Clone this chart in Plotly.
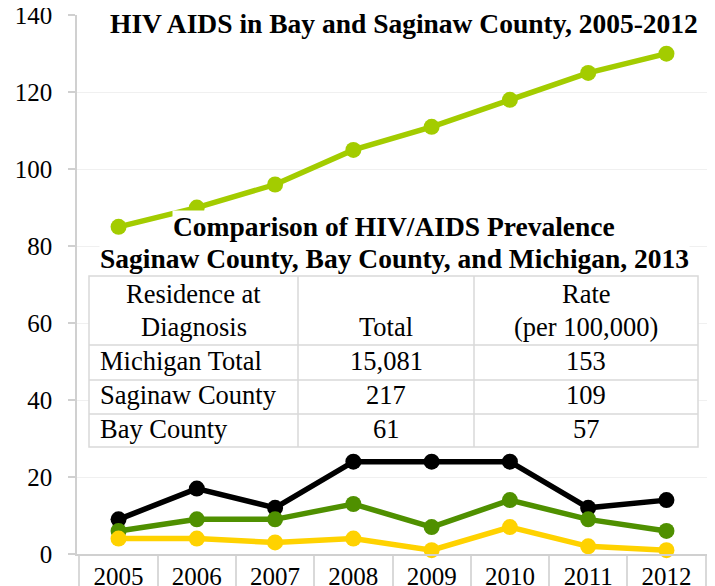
import plotly.graph_objects as go

# ---- data ----
years = ["2005", "2006", "2007", "2008", "2009", "2010", "2011", "2012"]
series_light_green = [85, 90, 96, 105, 111, 118, 125, 130]
series_black = [9, 17, 12, 24, 24, 24, 12, 14]
series_dark_green = [6, 9, 9, 13, 7, 14, 9, 6]
series_yellow = [4, 4, 3, 4, 1, 7, 2, 1]
y_ticks = [0, 20, 40, 60, 80, 100, 120, 140]

chart_title = "HIV AIDS in Bay and Saginaw County, 2005-2012"
table_title_1 = "Comparison of HIV/AIDS Prevalence"
table_title_2 = "Saginaw County, Bay County, and Michigan, 2013"
table_header_lines = [["Residence at", "Diagnosis"], ["", "Total"], ["Rate", "(per 100,000)"]]
table_residence = ["Michigan Total", "Saginaw County", "Bay County"]
table_total = ["15,081", "217", "61"]
table_rate = ["153", "109", "57"]

FONT = "Liberation Serif"
W, H = 715, 586
OFF = 8  # page body margin: figure is drawn 8px right/down in the window
# target (window) positions: plot area x 77..708, y 15..554
ML, MT = 77 - OFF, 15 - OFF
MR = W - (708 - OFF)
MB = H - (554 - OFF)
PW, PH = W - ML - MR, H - MT - MB


def px_x(x):
    """window pixel x -> paper x"""
    return (x - OFF - ML) / PW


def px_y(y):
    """window pixel y -> paper y"""
    return (H - MB - (y - OFF)) / PH


fig = go.Figure()

series = [
    ("Series 1", series_light_green, "#a3cc00"),
    ("Series 2", series_black, "#000000"),
    ("Series 3", series_dark_green, "#4f9000"),
    ("Series 4", series_yellow, "#ffd200"),
]
for name, vals, col in series:
    fig.add_trace(go.Scatter(
        x=years, y=vals, name=name, mode="lines+markers",
        line=dict(color=col, width=5.5),
        marker=dict(color=col, size=16),
        showlegend=False, cliponaxis=False,
    ))

# ---- table (drawn with shapes + annotations) ----
T_LEFT, T_RIGHT = 89, 698
COL_X = [89, 298, 474, 698]
ROW_Y = [276, 345, 380, 414, 447]
GRID = "#d9d9d9"
TFONT = dict(family=FONT, size=26.5, color="black")
DY = -3  # text box centre vs glyph centre

fig.add_shape(type="rect", xref="paper", yref="paper", layer="above",
              x0=px_x(T_LEFT), x1=px_x(T_RIGHT), y0=px_y(ROW_Y[-1]), y1=px_y(ROW_Y[0]),
              fillcolor="white", line=dict(color=GRID, width=1.5))
for yy in ROW_Y[1:-1]:
    fig.add_shape(type="line", xref="paper", yref="paper", layer="above",
                  x0=px_x(T_LEFT), x1=px_x(T_RIGHT), y0=px_y(yy), y1=px_y(yy),
                  line=dict(color=GRID, width=1.5))
for xx in COL_X[1:-1]:
    fig.add_shape(type="line", xref="paper", yref="paper", layer="above",
                  x0=px_x(xx), x1=px_x(xx), y0=px_y(ROW_Y[-1]), y1=px_y(ROW_Y[0]),
                  line=dict(color=GRID, width=1.5))

header_line_y = [297, 330]
for ci, lines in enumerate(table_header_lines):
    cx = (COL_X[ci] + COL_X[ci + 1]) / 2
    for li, txt in enumerate(lines):
        if txt:
            fig.add_annotation(text=txt, xref="paper", yref="paper",
                               x=px_x(cx), y=px_y(header_line_y[li] + DY),
                               xanchor="center", yanchor="middle",
                               showarrow=False, font=TFONT)

for ri in range(len(table_residence)):
    cy = (ROW_Y[ri + 1] + ROW_Y[ri + 2]) / 2 + 1 + DY
    fig.add_annotation(text=table_residence[ri], xref="paper", yref="paper",
                       x=px_x(COL_X[0] + 9), y=px_y(cy), xanchor="left", yanchor="middle",
                       showarrow=False, font=TFONT)
    fig.add_annotation(text=table_total[ri], xref="paper", yref="paper",
                       x=px_x((COL_X[1] + COL_X[2]) / 2), y=px_y(cy),
                       xanchor="center", yanchor="middle", showarrow=False, font=TFONT)
    fig.add_annotation(text=table_rate[ri], xref="paper", yref="paper",
                       x=px_x((COL_X[2] + COL_X[3]) / 2), y=px_y(cy),
                       xanchor="center", yanchor="middle", showarrow=False, font=TFONT)

TITLE_FONT = dict(family=FONT, size=27.5, color="black")
fig.add_annotation(
    text="<b>" + chart_title + "</b>", xref="paper", yref="paper",
    x=px_x(404), y=px_y(27 + DY), xanchor="center", yanchor="middle",
    showarrow=False, font=TITLE_FONT,
)
fig.add_annotation(
    text="<b>" + table_title_1 + "</b>", xref="paper", yref="paper",
    x=px_x(394), y=px_y(230 + DY), xanchor="center", yanchor="middle",
    showarrow=False, font=TITLE_FONT, bgcolor="white", borderpad=0,
)
fig.add_annotation(
    text="<b>" + table_title_2 + "</b>", xref="paper", yref="paper",
    x=px_x(394), y=px_y(261 + DY), xanchor="center", yanchor="middle",
    showarrow=False, font=TITLE_FONT, bgcolor="white", borderpad=0,
)

# chart-area right border
fig.add_shape(type="line", xref="paper", yref="paper",
              x0=1, x1=1, y0=px_y(600), y1=px_y(0),
              line=dict(color="#e6e6e6", width=1.5))

fig.update_layout(
    width=W, height=H,
    margin=dict(l=ML, r=MR, t=MT, b=MB, autoexpand=False),
    paper_bgcolor="white", plot_bgcolor="white",
    font=dict(family=FONT, color="black"),
    xaxis=dict(
        type="category", automargin=False,
        showgrid=False,
        showline=True, linecolor="#d0d0d0", linewidth=1.5,
        ticks="outside", tickson="boundaries", ticklen=40,
        tickcolor="#d9d9d9", tickwidth=1.5,
        ticklabelstandoff=-1, ticklabeloverflow="allow",
        tickfont=dict(family=FONT, size=25, color="black"),
    ),
    yaxis=dict(
        range=[0, 140.05], tickvals=y_ticks, automargin=False,
        showgrid=True, gridcolor="#f0f0f0", gridwidth=1,
        showline=True, linecolor="#d0d0d0", linewidth=1.5,
        ticks="outside", ticklen=7, tickcolor="#d0d0d0", tickwidth=1.5,
        ticklabelstandoff=11, ticklabeloverflow="allow",
        zeroline=False,
        tickfont=dict(family=FONT, size=25, color="black"),
    ),
)

fig.write_html("out.html")
